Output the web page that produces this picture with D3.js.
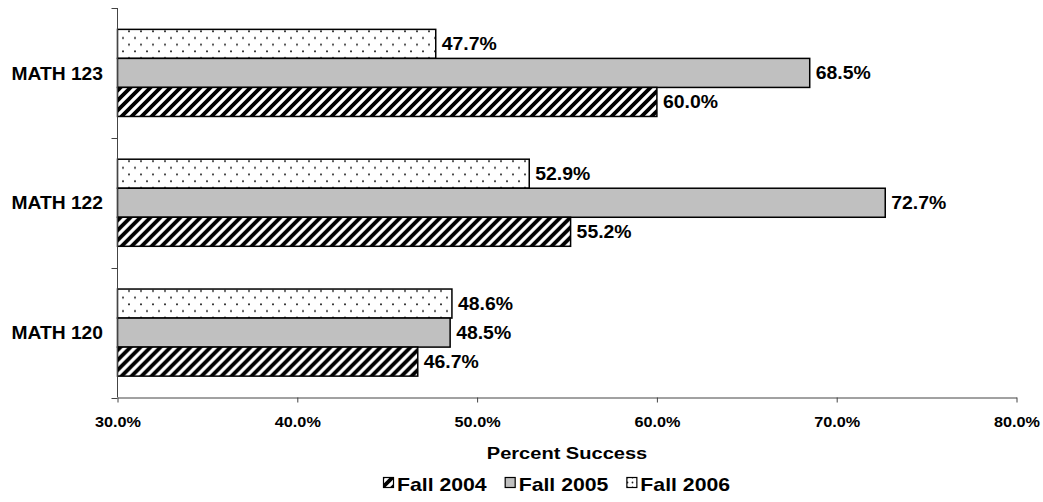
<!DOCTYPE html>
<html>
<head>
<meta charset="utf-8">
<script src="https://cdn.jsdelivr.net/npm/d3@7"></script>
<style>
  body { margin: 0; background: #fff; }
  svg text { font-family: "Liberation Sans", Arial, sans-serif; font-weight: bold; fill: #000; }
</style>
</head>
<body>
<svg id="chart" width="1043" height="502"></svg>
<script>
// chart data
var categories = ["MATH 123", "MATH 122", "MATH 120"];
var seriesNames = ["Fall 2004", "Fall 2005", "Fall 2006"];
var fall2004 = [60.0, 55.2, 46.7];
var fall2005 = [68.5, 72.7, 48.5];
var fall2006 = [47.7, 52.9, 48.6];
var xTicks = [30, 40, 50, 60, 70, 80];

var seriesValues = {"Fall 2004": fall2004, "Fall 2005": fall2005, "Fall 2006": fall2006};
// bars are stacked top to bottom in reverse legend order
var barOrder = ["Fall 2006", "Fall 2005", "Fall 2004"];

var svg = d3.select("#chart");
var plotLeft = 117.5, plotRight = 1016.5, plotTop = 8, plotBottom = 397.5;

// patterns
var defs = svg.append("defs");
var hatch = defs.append("pattern")
  .attr("id", "hatch")
  .attr("patternUnits", "userSpaceOnUse")
  .attr("width", 10).attr("height", 10);
hatch.append("rect").attr("width", 10).attr("height", 10).attr("fill", "#fff");
hatch.append("path")
  .attr("d", "M-2.5,2.5 l5,-5 M0,10 l10,-10 M7.5,12.5 l5,-5")
  .attr("stroke", "#000")
  .attr("stroke-width", 3.8);

var dots = defs.append("pattern")
  .attr("id", "dots")
  .attr("patternUnits", "userSpaceOnUse")
  .attr("width", 12).attr("height", 13.4);
dots.append("rect").attr("width", 12).attr("height", 13.4).attr("fill", "#fff");
dots.append("circle").attr("cx", 3).attr("cy", 3.2).attr("r", 1).attr("fill", "#222");
dots.append("circle").attr("cx", 9).attr("cy", 9.9).attr("r", 1).attr("fill", "#222");

// small dot pattern for the legend swatch
var dotsSmall = defs.append("pattern")
  .attr("id", "dotsSmall")
  .attr("patternUnits", "userSpaceOnUse")
  .attr("width", 5).attr("height", 5)
  .attr("x", 1).attr("y", 1);
dotsSmall.append("rect").attr("width", 5).attr("height", 5).attr("fill", "#fff");
dotsSmall.append("circle").attr("cx", 1.5).attr("cy", 1.5).attr("r", 0.9).attr("fill", "#222");

var fills = {"Fall 2004": "url(#hatch)", "Fall 2005": "#c0c0c0", "Fall 2006": "url(#dots)"};
var legendFills = {"Fall 2004": "url(#hatch)", "Fall 2005": "#c0c0c0", "Fall 2006": "url(#dotsSmall)"};

// scales
var x = d3.scaleLinear().domain([30, 80]).range([plotLeft, plotRight]);
var y0 = d3.scaleBand().domain(categories).range([plotTop, plotBottom]).padding(0);
var y1 = d3.scaleBand().domain(barOrder)
  .range([0, y0.bandwidth()])
  .paddingInner(0).paddingOuter(0.736);

// bars
var groups = svg.append("g").selectAll("g")
  .data(categories)
  .enter().append("g")
  .attr("transform", function(c) { return "translate(0," + y0(c) + ")"; });

function barData(c, i) {
  return barOrder.map(function(s) { return {cat: c, series: s, value: seriesValues[s][i]}; });
}

groups.selectAll("rect")
  .data(barData)
  .enter().append("rect")
  .attr("x", x(30))
  .attr("y", function(d) { return y1(d.series); })
  .attr("width", function(d) { return x(d.value) - x(30); })
  .attr("height", y1.bandwidth())
  .attr("fill", function(d) { return fills[d.series]; })
  .attr("stroke", "#000")
  .attr("stroke-width", 1.5);

// value labels
groups.selectAll("text.val")
  .data(barData)
  .enter().append("text")
  .attr("class", "val")
  .attr("transform", function(d) {
    return "translate(" + (x(d.value) + 6) + "," + (y1(d.series) + y1.bandwidth() / 2) + ") scale(1.11,1)";
  })
  .attr("dy", "0.36em")
  .style("font-size", "17.5px")
  .text(function(d) { return d.value.toFixed(1) + "%"; });

// x axis
var xAxis = d3.axisBottom(x)
  .tickValues(xTicks)
  .tickSize(5)
  .tickSizeOuter(0)
  .tickFormat(function(d) { return d.toFixed(1) + "%"; });

var gx = svg.append("g")
  .attr("transform", "translate(0," + plotBottom + ")")
  .call(xAxis);
gx.select(".domain").attr("stroke", "#444");
gx.selectAll(".tick line").attr("stroke", "#444");
gx.selectAll(".tick text")
  .attr("y", 20)
  .attr("transform", "scale(1.16,1)")
  .style("font-size", "14px")
  .style("font-family", "'Liberation Sans', Arial, sans-serif")
  .style("font-weight", "bold")
  .attr("fill", "#000");

// y axis: line with ticks at category boundaries
var gy = svg.append("g");
gy.append("line")
  .attr("x1", plotLeft).attr("x2", plotLeft)
  .attr("y1", plotTop).attr("y2", plotBottom)
  .attr("stroke", "#444");
var bounds = categories.map(function(c) { return y0(c); }).concat([plotBottom]);
gy.selectAll("line.tk")
  .data(bounds)
  .enter().append("line")
  .attr("class", "tk")
  .attr("x1", plotLeft - 6).attr("x2", plotLeft)
  .attr("y1", function(d) { return Math.round(d) + 0.5; })
  .attr("y2", function(d) { return Math.round(d) + 0.5; })
  .attr("stroke", "#444");

gy.selectAll("text")
  .data(categories)
  .enter().append("text")
  .attr("transform", function(c) {
    return "translate(103," + (y0(c) + y0.bandwidth() / 2) + ") scale(1.04,1)";
  })
  .attr("dy", "0.36em")
  .attr("text-anchor", "end")
  .style("font-size", "18.5px")
  .text(function(c) { return c; });

// axis title
svg.append("text")
  .attr("transform", "translate(" + ((plotLeft + plotRight) / 2) + ",459) scale(1.18,1)")
  .attr("text-anchor", "middle")
  .style("font-size", "17px")
  .text("Percent Success");

// legend
var legend = svg.append("g");
var lx = 383;
seriesNames.forEach(function(s) {
  legend.append("rect")
    .attr("x", lx + 0.5).attr("y", 477.5)
    .attr("width", 10).attr("height", 10)
    .attr("fill", legendFills[s])
    .attr("stroke", "#000")
    .attr("stroke-width", 1.2);
  var t = legend.append("text")
    .attr("transform", "translate(" + (lx + 14) + ",491) scale(1.18,1)")
    .style("font-size", "18px")
    .text(s);
  lx = lx + 14 + t.node().getComputedTextLength() * 1.18 + 18;
});
</script>
</body>
</html>
